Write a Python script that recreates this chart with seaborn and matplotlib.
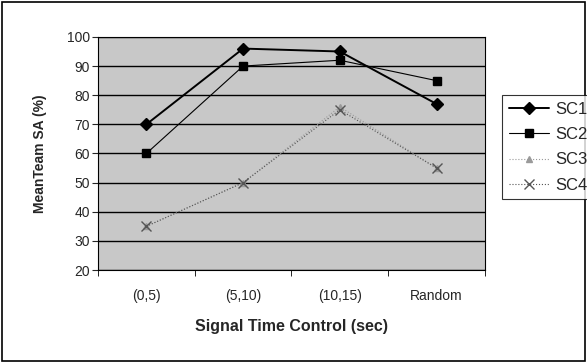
import numpy as np
import pandas as pd
import matplotlib
matplotlib.use('Agg')
import matplotlib.pyplot as plt
from matplotlib.patches import Rectangle
import seaborn as sns

categories = ['(0,5)', '(5,10)', '(10,15)', 'Random']
sc1 = [70, 96, 95, 77]
sc2 = [60, 90, 92, 85]
sc3 = [35, 50, 76, 55]
sc4 = [35, 50, 75, 55]
series_names = ['SC1', 'SC2', 'SC3', 'SC4']

df = pd.DataFrame({
    'x': list(range(len(categories))) * 4,
    'value': sc1 + sc2 + sc3 + sc4,
    'series': [s for s in series_names for _ in categories],
})

sns.set_style('white')
plt.rcParams['font.family'] = ['Liberation Sans', 'DejaVu Sans']

fig = plt.figure(figsize=(5.87, 3.62), dpi=100)
ax = fig.add_axes([0.167, 0.254, 0.659, 0.644])
ax.set_facecolor('#c8c8c8')

styles = {
    'SC1': dict(color='black', marker='D', linestyle='-', lw=1.4, ms=6),
    'SC2': dict(color='black', marker='s', linestyle='-', lw=0.8, ms=6),
    'SC3': dict(color='#9a9a9a', marker='^', linestyle=':', lw=0.8, ms=5),
    'SC4': dict(color='#555555', marker='x', linestyle=':', lw=0.8, ms=7),
}

for name in series_names:
    st = styles[name]
    sns.lineplot(data=df[df['series'] == name], x='x', y='value', ax=ax,
                 color=st['color'], marker=st['marker'], linestyle=st['linestyle'],
                 linewidth=st['lw'], markersize=st['ms'], markeredgecolor=st['color'],
                 markeredgewidth=1, label=name, zorder=3)

ax.set_xlim(-0.5, 3.5)
ax.set_ylim(20, 100)
ax.set_yticks(range(20, 101, 10))
ax.yaxis.grid(True, color='black', linewidth=1)
ax.set_axisbelow(True)
ax.set_xticks(range(len(categories)))
ax.set_xticklabels(categories)
ax.set_xticks(np.arange(-0.5, 4, 1), minor=True)
ax.tick_params(axis='x', which='major', length=0, pad=14, labelsize=10)
ax.tick_params(axis='x', which='minor', length=4, direction='out', color='black')
ax.tick_params(axis='y', length=4, direction='out', labelsize=10, pad=2)
ax.xaxis.set_ticks_position('bottom')
ax.yaxis.set_ticks_position('left')
for sp in ax.spines.values():
    sp.set_color('black')
    sp.set_linewidth(0.8)

ax.set_xlabel('Signal Time Control (sec)', fontsize=11.5, fontweight='bold', labelpad=11)
ax.set_ylabel('MeanTeam SA (%)', fontsize=10, fontweight='bold', labelpad=14)

leg = fig.legend(*ax.get_legend_handles_labels(), loc='upper left',
                 bbox_to_anchor=(502 / 587, 1 - 95 / 362), borderaxespad=0,
                 frameon=True, fancybox=False, edgecolor='black', fontsize=12,
                 handlelength=2.4, handletextpad=0.4, borderpad=0.4, labelspacing=0.62)
leg.get_frame().set_linewidth(0.8)
ax.get_legend().remove()

fig.patches.append(Rectangle((0.003, 0.003), 0.994, 0.992, transform=fig.transFigure,
                             fill=False, edgecolor='black', linewidth=1.2))

fig.savefig('out.png', dpi=100)
